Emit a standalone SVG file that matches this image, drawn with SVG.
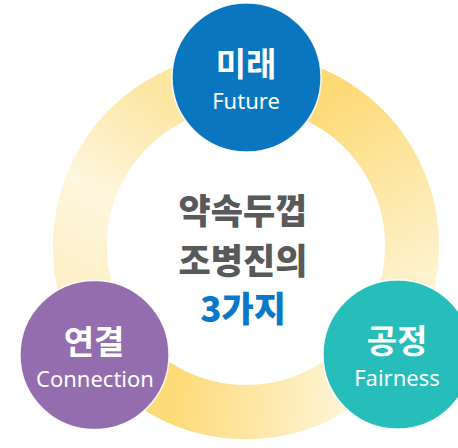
<svg xmlns="http://www.w3.org/2000/svg" width="458" height="448" viewBox="0 0 458 448">
<defs>
<style>
.ring{fill:none;stroke-width:54;stroke-linecap:butt}
.node{stroke:#ffffff;stroke-width:1.5;stroke-opacity:0.85}
.ko{font-family:"Noto Sans CJK KR","Noto Sans",sans-serif;font-weight:700;fill:#ffffff;text-anchor:middle;font-size:33px}
.en{font-family:"Noto Sans","Liberation Sans",sans-serif;font-weight:400;fill:#ffffff;text-anchor:middle;font-size:22px}
.mid{font-family:"Noto Sans CJK KR","Noto Sans",sans-serif;font-weight:900;text-anchor:middle;font-size:35px}
</style>
<linearGradient id="gA" gradientUnits="userSpaceOnUse" x1="320" y1="100" x2="445" y2="300">
<stop offset="0" stop-color="#FDDA76"/><stop offset="1" stop-color="#FEF6DC"/>
</linearGradient>
<linearGradient id="gB" gradientUnits="userSpaceOnUse" x1="175" y1="395" x2="345" y2="415">
<stop offset="0" stop-color="#FDDB78"/><stop offset="1" stop-color="#FEF5D8"/>
</linearGradient>
<linearGradient id="gC" gradientUnits="userSpaceOnUse" x1="175" y1="105" x2="55" y2="300">
<stop offset="0" stop-color="#FCE6A2"/><stop offset="0.5" stop-color="#FEF6DE"/><stop offset="1" stop-color="#FDEFC2"/>
</linearGradient>
</defs>
<rect width="458" height="448" fill="#ffffff"/>
<g id="connectors">
<path class="ring" stroke="url(#gA)" d="M246 80 A166 166 0 0 1 381 342.7"/>
<path class="ring" stroke="url(#gB)" d="M381 342.7 A166 166 0 0 1 111 342.7"/>
<path class="ring" stroke="url(#gC)" d="M111 342.7 A166 166 0 0 1 246 80"/>
</g>
<g id="center">
<text class="mid" x="243" y="224" fill="#58595B">약속두껍</text>
<text class="mid" x="243" y="274" fill="#58595B">조병진의</text>
<text class="mid" x="243" y="322" fill="#0A78C8">3가지</text>
</g>
<g id="future">
<circle class="node" cx="246.5" cy="77.5" r="74.5" fill="#0A76C0"/>
<text class="ko" x="246" y="76">미래</text>
<text class="en" x="246" y="109">Future</text>
</g>
<g id="connection">
<circle class="node" cx="94.5" cy="355" r="74.5" fill="#946DAE"/>
<text class="ko" x="94" y="354">연결</text>
<text class="en" x="95" y="387">Connection</text>
</g>
<g id="fairness">
<circle class="node" cx="397.5" cy="354.5" r="74.5" fill="#27BDBB"/>
<text class="ko" x="397" y="353">공정</text>
<text class="en" x="397" y="386">Fairness</text>
</g>
</svg>
